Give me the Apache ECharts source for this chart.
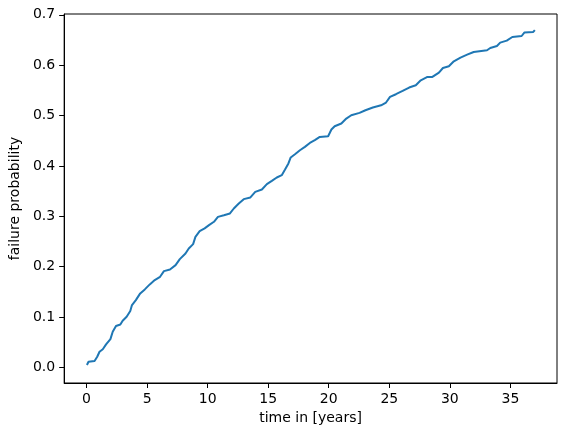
<!DOCTYPE html>
<html>
<head>
<meta charset="utf-8">
<script src="https://cdn.jsdelivr.net/npm/echarts@6/dist/echarts.min.js"></script>
<style>
  html, body { margin: 0; padding: 0; background: #fff; }
  #chart { width: 567px; height: 436px; }
</style>
</head>
<body>
<div id="chart"></div>
<script>
// (years, failure probability)
const years = [0.03, 0.16, 0.66, 0.88, 1.07, 1.34, 1.61, 1.97, 2.16, 2.43, 2.79, 2.98, 3.31, 3.61, 3.75,
  4.07, 4.43, 4.81, 5.22, 5.63, 6.07, 6.39, 6.89, 7.35, 7.70, 8.17, 8.44, 8.80, 8.99, 9.34,
  9.75, 10.11, 10.52, 10.85, 11.34, 11.84, 12.16, 12.57, 12.98, 13.53, 13.93, 14.48, 14.89,
  15.30, 15.71, 16.12, 16.39, 16.67, 16.86, 17.21, 17.62, 18.03, 18.44, 18.85, 19.26, 19.95,
  20.22, 20.49, 21.04, 21.45, 21.86, 22.54, 23.03, 23.64, 24.32, 24.73, 25.06, 25.55, 26.10,
  26.64, 27.19, 27.60, 28.15, 28.56, 29.10, 29.43, 29.92, 30.33, 30.88, 31.43, 31.97, 33.07,
  33.34, 33.89, 34.16, 34.70, 35.16, 35.93, 36.15, 36.89, 37.02];
const failProb = [0.0046, 0.011, 0.0125, 0.021, 0.031, 0.036, 0.0456, 0.056, 0.0706, 0.082, 0.085, 0.0925, 0.1004, 0.1117, 0.1236,
  0.1335, 0.1468, 0.1548, 0.1647, 0.1732, 0.1798, 0.1911, 0.1944, 0.203, 0.2149, 0.226, 0.236, 0.2447, 0.259, 0.2704,
  0.276, 0.2823, 0.289, 0.2988, 0.302, 0.3055, 0.3154, 0.3254, 0.334, 0.3373, 0.3484, 0.3531, 0.3637,
  0.3702, 0.377, 0.3816, 0.3928, 0.4048, 0.4167, 0.4232, 0.4311, 0.4377, 0.4456, 0.451, 0.4575, 0.4589,
  0.4722, 0.4788, 0.4841, 0.494, 0.5006, 0.5052, 0.5105, 0.5159, 0.5204, 0.5258, 0.5369, 0.5423, 0.5488,
  0.5556, 0.5601, 0.57, 0.5766, 0.5766, 0.5853, 0.5944, 0.5978, 0.6077, 0.6151, 0.621, 0.6262, 0.6296,
  0.6341, 0.6381, 0.6448, 0.6488, 0.656, 0.6579, 0.6647, 0.6659, 0.6698];
const xTicks = [0, 5, 10, 15, 20, 25, 30, 35];
const yTicks = [0, 0.1, 0.2, 0.3, 0.4, 0.5, 0.6, 0.7];

const font = 'DejaVu Sans';
const black = '#000';

const chart = echarts.init(document.getElementById('chart'));
chart.setOption({
  animation: false,
  grid: { left: 61, right: 10, top: 14, bottom: 53, show: true, borderColor: black, borderWidth: 1 },
  xAxis: {
    type: 'value',
    min: -1.85, max: 38.85,
    name: 'time in [years]', nameLocation: 'middle', nameGap: 27,
    nameTextStyle: { fontFamily: font, fontSize: 14, color: black },
    axisLine: { show: true, onZero: false, lineStyle: { color: black, width: 1 } },
    axisTick: { show: true, length: 5, customValues: xTicks, lineStyle: { color: black } },
    axisLabel: { margin: 9, customValues: xTicks, fontFamily: font, fontSize: 14, color: black },
    splitLine: { show: false }
  },
  yAxis: {
    type: 'value',
    min: -0.0311, max: 0.7016,
    name: 'failure probability', nameLocation: 'middle', nameGap: 38,
    nameTextStyle: { fontFamily: font, fontSize: 14, color: black },
    axisLine: { show: true, onZero: false, lineStyle: { color: black, width: 1 } },
    axisTick: { show: true, length: 5, customValues: yTicks, lineStyle: { color: black } },
    axisLabel: { margin: 9, customValues: yTicks, fontFamily: font, fontSize: 14, color: black,
      formatter: v => v.toFixed(1) },
    splitLine: { show: false }
  },
  series: [{
    type: 'line',
    data: years.map((t, i) => [t, failProb[i]]),
    showSymbol: false,
    lineStyle: { color: '#1f77b4', width: 2 }
  }]
});
</script>
</body>
</html>
